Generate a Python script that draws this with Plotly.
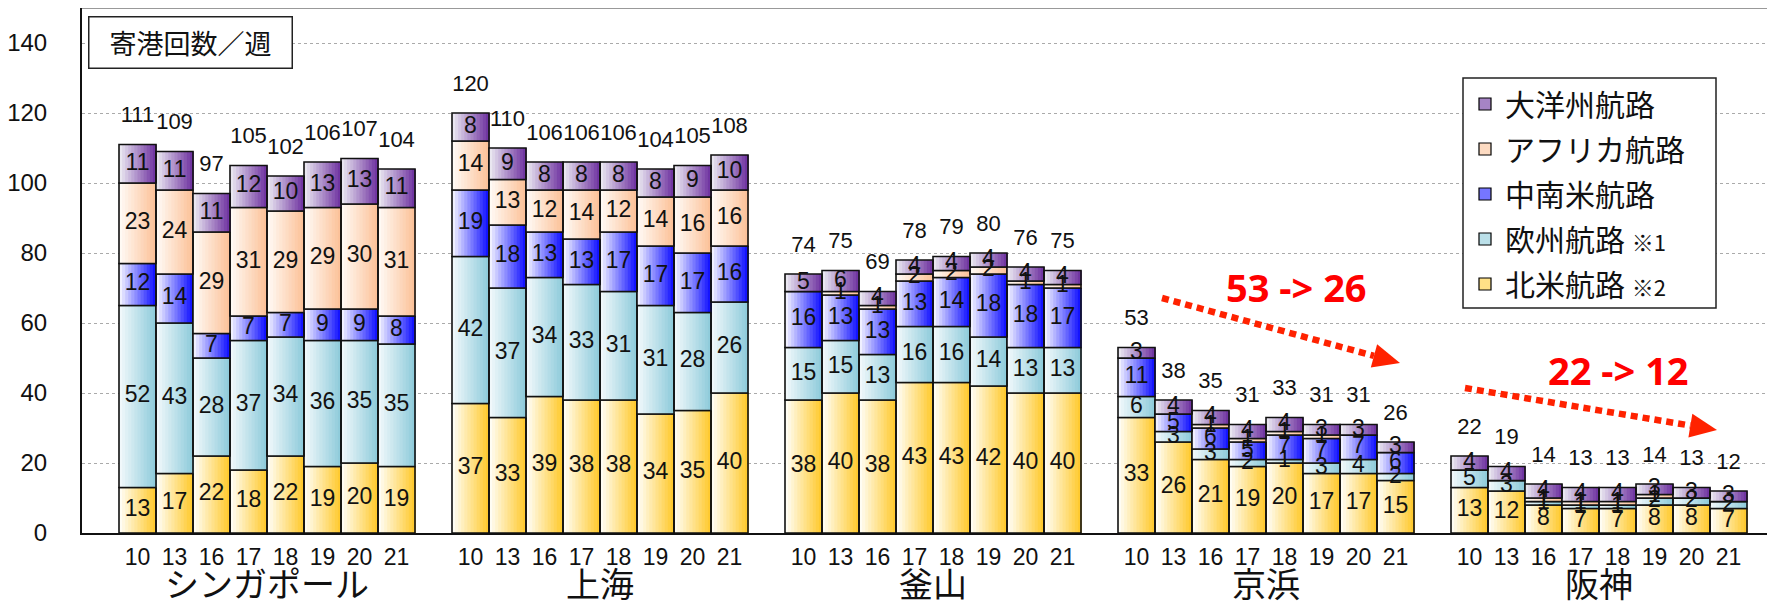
import plotly.graph_objects as go

# ---------------- data ----------------
ports = ["シンガポール", "上海", "釜山", "京浜", "阪神"]
years = ["10", "13", "16", "17", "18", "19", "20", "21"]

# values per port (rows) and year (columns)
north_america = [
    [13, 17, 22, 18, 22, 19, 20, 19],
    [37, 33, 39, 38, 38, 34, 35, 40],
    [38, 40, 38, 43, 43, 42, 40, 40],
    [33, 26, 21, 19, 20, 17, 17, 15],
    [13, 12, 8, 7, 7, 8, 8, 7],
]
europe = [
    [52, 43, 28, 37, 34, 36, 35, 35],
    [42, 37, 34, 33, 31, 31, 28, 26],
    [15, 15, 13, 16, 16, 14, 13, 13],
    [6, 3, 3, 2, 1, 3, 4, 2],
    [5, 3, 1, 1, 1, 2, 2, 2],
]
latin_america = [
    [12, 14, 7, 7, 7, 9, 9, 8],
    [19, 18, 13, 13, 17, 17, 17, 16],
    [16, 13, 13, 13, 14, 18, 18, 17],
    [11, 5, 6, 5, 7, 7, 7, 6],
    [0, 0, 0, 0, 0, 0, 0, 0],
]
africa = [
    [23, 24, 29, 31, 29, 29, 30, 31],
    [14, 13, 12, 14, 12, 14, 16, 16],
    [0, 1, 1, 2, 2, 2, 1, 1],
    [0, 0, 1, 1, 1, 1, 0, 0],
    [0, 0, 1, 1, 1, 1, 0, 0],
]
oceania = [
    [11, 11, 11, 12, 10, 13, 13, 11],
    [8, 9, 8, 8, 8, 8, 9, 10],
    [5, 6, 4, 4, 4, 4, 4, 4],
    [3, 4, 4, 4, 4, 3, 3, 3],
    [4, 4, 4, 4, 4, 3, 3, 3],
]

series_names = ["北米航路 ※2", "欧州航路 ※1", "中南米航路", "アフリカ航路", "大洋州航路"]
series_values = [north_america, europe, latin_america, africa, oceania]

y_ticks = [0, 20, 40, 60, 80, 100, 120, 140]

# ---------------- styles ----------------
OFF = 8                      # page offset of the figure (body margin)
W, H = 1775 - OFF, 606 - OFF
ML, MT, MR = 82 - OFF, 0, 0
PLOT_BOTTOM_PAGE = 533
PH = PLOT_BOTTOM_PAGE - OFF - MT
MB = H - MT - PH
PW = W - ML - MR
SLOT = 37.0
X_MAX = PW / SLOT
Y_MAX = PH / 3.5

grad_end = [
    (255, 200, 40),
    (140, 202, 218),
    (10, 10, 255),
    (252, 192, 150),
    (108, 46, 158),
]
grad_start = [
    (255, 255, 252),
    (244, 250, 252),
    (250, 250, 255),
    (255, 252, 248),
    (238, 238, 244),
]
N_STRIP = 12
FONT = "Liberation Sans, Noto Sans CJK JP, sans-serif"
JFONT = "Noto Sans CJK JP, sans-serif"


def mix(c0, c1, t):
    return "rgb(%d,%d,%d)" % tuple(round(a + (b - a) * t) for a, b in zip(c0, c1))


# page pixel -> axis / paper coordinates
def px2x(px):
    return (px - OFF - ML) / SLOT


def py2y(py):
    return (PLOT_BOTTOM_PAGE - py) / PH * Y_MAX


def px2paper(px):
    return (px - OFF - ML) / PW


def py2paper(py):
    return (PLOT_BOTTOM_PAGE - py) / PH


# bar x positions (slot layout: one empty slot before each port group)
xs = []
for g in range(len(ports)):
    for j in range(len(years)):
        xs.append(1 + g * 9 + j + 0.5)


def flat(v):
    return [a for row in v for a in row]


flat_vals = [flat(v) for v in series_values]
bases = []
run = [0] * len(xs)
for fv in flat_vals:
    bases.append(list(run))
    run = [r + v for r, v in zip(run, fv)]
totals = run

fig = go.Figure()

# legend entries (top to bottom)
for si in [4, 3, 2, 1, 0]:
    name = series_names[si]
    if "※" in name:
        a, b = name.split(" ")
        name = a + " <span style='font-size:22px'>" + b + "</span>"
    fig.add_trace(go.Bar(
        x=[None], y=[None], name=name, legendgroup="g%d" % si,
        marker=dict(color=mix(grad_start[si], grad_end[si], 0.55),
                    line=dict(color="black", width=1.2)),
        showlegend=True,
    ))

# gradient strips
for si, fv in enumerate(flat_vals):
    for k in range(N_STRIP):
        t = (k + 0.5) / N_STRIP
        fig.add_trace(go.Bar(
            x=xs, y=fv, base=bases[si],
            width=[1.0 / N_STRIP * 1.25] * len(xs),
            offset=-0.5 + k / N_STRIP,
            marker=dict(color=mix(grad_start[si], grad_end[si], t), line=dict(width=0)),
            showlegend=False, hoverinfo="skip",
        ))
    fig.add_trace(go.Bar(
        x=xs, y=fv, base=bases[si], width=[1.0] * len(xs), offset=-0.5,
        marker=dict(color="rgba(0,0,0,0)", line=dict(color="#111", width=1.6)),
        showlegend=False, hoverinfo="skip",
    ))

# segment labels
for si, fv in enumerate(flat_vals):
    fig.add_trace(go.Scatter(
        x=xs, y=[b + v / 2 for b, v in zip(bases[si], fv)],
        text=[str(v) if v > 0 else "" for v in fv],
        mode="text", textposition="middle center",
        textfont=dict(family=FONT, size=23, color="#111"),
        showlegend=False, hoverinfo="skip", cliponaxis=False,
    ))

# total labels
fig.add_trace(go.Scatter(
    x=xs, y=[t + 8 for t in totals], text=[str(t) for t in totals],
    mode="text", textposition="middle center",
    textfont=dict(family=FONT, size=22, color="#111"),
    showlegend=False, hoverinfo="skip", cliponaxis=False,
))

shapes = [
    dict(type="line", xref="paper", yref="paper", x0=0, x1=1, y0=1, y1=1,
         line=dict(color="#999", width=2)),
    # legend frame
    dict(type="rect", xref="paper", yref="paper", layer="above",
         x0=px2paper(1463), x1=px2paper(1716), y0=py2paper(308), y1=py2paper(78),
         fillcolor="white", line=dict(color="#222", width=1.5)),
]
annotations = []

# port group labels
for g, p in enumerate(ports):
    annotations.append(dict(
        x=1 + g * 9 + 4, y=py2paper(582), xref="x", yref="paper",
        text=p, showarrow=False, font=dict(family=JFONT, size=34, color="#111"),
        xanchor="center", yanchor="middle", borderpad=0,
    ))

# unit box
annotations.append(dict(
    x=px2paper(190), y=py2paper(42), xref="paper", yref="paper",
    text="寄港回数／週", showarrow=False, font=dict(family=JFONT, size=27, color="#111"),
    xanchor="center", yanchor="middle", bordercolor="#222", borderwidth=1.5,
    borderpad=0, width=202, height=50, bgcolor="white",
))

# red trend arrows
arrows = [
    ((1162, 298), (1400, 363), "53 -> 26", (1296, 287)),
    ((1465, 388), (1717, 430), "22 -> 12", (1618, 370)),
]
for (sx, sy), (tx, ty), label, (lx, ly) in arrows:
    dx, dy = tx - sx, ty - sy
    ln = (dx * dx + dy * dy) ** 0.5
    ux, uy = dx / ln, dy / ln
    bx, by = tx - 27 * ux, ty - 27 * uy
    pxv, pyv = -uy, ux
    c1 = (bx + 12 * pxv, by + 12 * pyv)
    c2 = (bx - 12 * pxv, by - 12 * pyv)
    shapes.append(dict(
        type="line", xref="x", yref="y",
        x0=px2x(sx), y0=py2y(sy), x1=px2x(bx), y1=py2y(by),
        line=dict(color="#FF2200", width=6.5, dash="7px,5px"),
    ))
    path = "M %f %f L %f %f L %f %f Z" % (
        px2x(tx), py2y(ty), px2x(c1[0]), py2y(c1[1]), px2x(c2[0]), py2y(c2[1]))
    shapes.append(dict(type="path", xref="x", yref="y", path=path,
                       fillcolor="#FF2200", line=dict(width=0)))
    annotations.append(dict(
        x=px2x(lx), y=py2y(ly), xref="x", yref="y", text="<b>" + label + "</b>",
        showarrow=False, font=dict(family="Noto Sans, Liberation Sans, sans-serif",
                                   size=38, color="#FF0000"),
        xanchor="center", yanchor="middle",
    ))

fig.update_layout(
    width=W, height=H,
    margin=dict(l=ML, r=MR, t=MT, b=MB, pad=0, autoexpand=False),
    paper_bgcolor="white", plot_bgcolor="white",
    barmode="overlay",
    showlegend=True,
    legend=dict(
        x=px2paper(1465), y=py2paper(78), xanchor="left", yanchor="top",
        font=dict(family=JFONT, size=30, color="#111"),
        bordercolor="rgba(0,0,0,0)", borderwidth=0, bgcolor="rgba(0,0,0,0)",
        traceorder="grouped", tracegroupgap=3, itemwidth=30,
    ),
    xaxis=dict(
        range=[0, X_MAX], tickvals=xs, ticktext=years * len(ports),
        showgrid=False, zeroline=False, showline=True, linecolor="#111", linewidth=2,
        ticks="", ticklabelstandoff=2,
        tickfont=dict(family=FONT, size=23, color="#111"),
        fixedrange=True,
    ),
    yaxis=dict(
        range=[0, Y_MAX], tickvals=y_ticks, ticktext=[str(v) for v in y_ticks],
        showgrid=True, gridcolor="#aaa", griddash="dot", gridwidth=1,
        zeroline=False, showline=True, linecolor="#111", linewidth=2,
        ticks="", ticklabelstandoff=28,
        tickfont=dict(family=FONT, size=24, color="#111"),
        fixedrange=True,
    ),
    shapes=shapes,
    annotations=annotations,
    font=dict(family=FONT),
)

fig.write_html("out.html")
